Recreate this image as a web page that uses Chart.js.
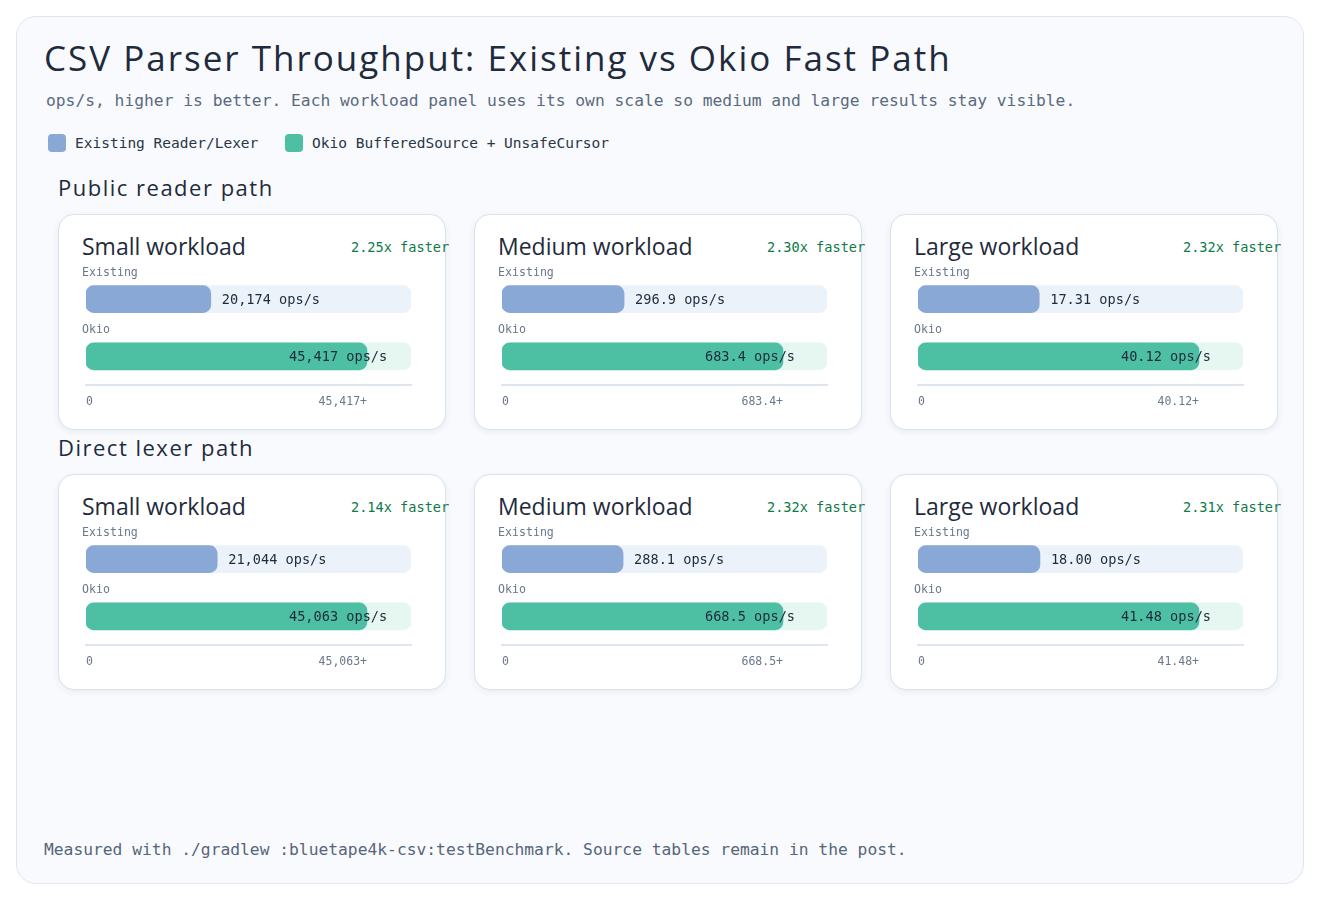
<!DOCTYPE html>
<html>
<head>
<meta charset="utf-8">
<script src="https://cdn.jsdelivr.net/npm/chart.js@4.4.1/dist/chart.umd.min.js"></script>
<style>
  body { margin: 0; background: #ffffff; width: 1320px; height: 900px; position: relative; overflow: hidden; }
  .frame { position: absolute; left: 16px; top: 16px; width: 1286px; height: 866px; border: 1px solid #e0e6ef; border-radius: 20px; background: #f8fafd; }
  .hand { font-family: "Open Sans", "Lato", sans-serif; color: #1f2b3c; }
  .mono { font-family: "DejaVu Sans Mono", "Liberation Mono", monospace; }
  .abs { position: absolute; white-space: nowrap; }
  .title { left: 44px; top: 36px; font-size: 35px; line-height: 44px; letter-spacing: 2px; }
  .subtitle { left: 46px; top: 91px; font-size: 16.3px; line-height: 20px; color: #5b6a7e; }
  .legend { left: 48px; top: 133px; font-size: 14.5px; line-height: 20px; color: #2a3646; }
  .legend span.sw { display: inline-block; width: 18px; height: 18px; border-radius: 4px; vertical-align: -4px; margin-right: 9px; }
  .legend span.item { margin-right: 18px; }
  .section { font-size: 22px; line-height: 28px; letter-spacing: 1.5px; }
  .panel { position: absolute; width: 386px; height: 214px; background: #ffffff; border: 1.5px solid #dae2ed; border-radius: 16px; box-shadow: 0 2px 6px rgba(40, 60, 100, 0.07); }
  .panel .ptitle { position: absolute; left: 23px; top: 16px; font-size: 23px; line-height: 30px; white-space: nowrap; }
  .panel .speed { position: absolute; left: 292px; top: 22px; font-size: 13.6px; line-height: 20px; color: #0d7a48; white-space: nowrap; }
  .panel canvas { position: absolute; left: -1.5px; top: 48.5px; }
  .footer { left: 44px; top: 840px; font-size: 16.3px; line-height: 20px; color: #56657a; }
</style>
</head>
<body>
<div class="frame"></div>
<div class="abs hand title">CSV Parser Throughput: Existing vs Okio Fast Path</div>
<div class="abs mono subtitle">ops/s, higher is better. Each workload panel uses its own scale so medium and large results stay visible.</div>
<div class="abs mono legend">
  <span class="item"><span class="sw" style="background:#8aa8d6"></span>Existing Reader/Lexer</span>
  <span class="item"><span class="sw" style="background:#4dc0a4"></span>Okio BufferedSource + UnsafeCursor</span>
</div>
<div class="abs hand section" style="left:58px; top:173px;">Public reader path</div>
<div class="abs hand section" style="left:58px; top:433px;">Direct lexer path</div>
<div id="panels"></div>
<div class="abs mono footer">Measured with ./gradlew :bluetape4k-csv:testBenchmark. Source tables remain in the post.</div>

<script>
const workloads = ["Small workload", "Medium workload", "Large workload"];
const barLabels = ["Existing", "Okio"];
const decimals = [0, 1, 2];

const publicExisting = [20174, 296.9, 17.31];
const publicOkio = [45417, 683.4, 40.12];
const publicSpeedup = [2.25, 2.30, 2.32];

const lexerExisting = [21044, 288.1, 18.00];
const lexerOkio = [45063, 668.5, 41.48];
const lexerSpeedup = [2.14, 2.32, 2.31];

const EXISTING_COLOR = "#8aa8d6";
const OKIO_COLOR = "#4dc0a4";
const EXISTING_TRACK = "#ebf2fa";
const OKIO_TRACK = "#e6f6f0";
const HEADROOM = 1.1566; // scale runs a bit past the okio value
const MONO = "'DejaVu Sans Mono', 'Liberation Mono', monospace";

const colX = [58, 474, 890];
const rowY = [214, 474];

function fmt(v, d) {
  return v.toLocaleString("en-US", { minimumFractionDigits: d, maximumFractionDigits: d });
}

// draws "Existing"/"Okio" above each bar and the value text next to it
const barTextPlugin = {
  id: "barText",
  afterDatasetsDraw(chart) {
    const ctx = chart.ctx;
    const meta = chart.getDatasetMeta(0);
    const area = chart.chartArea;
    const d = chart.options.plugins.barText.decimals;
    ctx.save();
    meta.data.forEach((bar, i) => {
      ctx.font = "11.6px " + MONO;
      ctx.fillStyle = "#6b778a";
      ctx.textAlign = "left";
      ctx.textBaseline = "middle";
      ctx.fillText(chart.data.labels[i], area.left - 4, bar.y - 26);

      const v = chart.data.datasets[0].data[i];
      ctx.font = "13.6px " + MONO;
      ctx.fillStyle = "#1f2b3b";
      const x = Math.min(bar.x + 11, area.right - 122);
      ctx.fillText(fmt(v, d) + " ops/s", x, bar.y + 1);
    });
    ctx.restore();
  }
};

function makePanel(left, top, title, existing, okio, speedup, d) {
  const panel = document.createElement("div");
  panel.className = "panel";
  panel.style.left = left + "px";
  panel.style.top = top + "px";
  panel.innerHTML =
    '<div class="ptitle hand">' + title + '</div>' +
    '<div class="speed mono">' + speedup.toFixed(2) + 'x faster</div>';
  const canvas = document.createElement("canvas");
  canvas.width = 388;
  canvas.height = 166;
  panel.appendChild(canvas);
  document.getElementById("panels").appendChild(panel);

  const max = okio * HEADROOM;
  new Chart(canvas, {
    type: "bar",
    data: {
      labels: barLabels,
      datasets: [
        {
          label: "value",
          data: [existing, okio],
          backgroundColor: [EXISTING_COLOR, OKIO_COLOR],
          barThickness: 27,
          borderRadius: 8,
          borderSkipped: false,
          grouped: false,
          order: 1
        },
        {
          label: "track",
          data: [max, max],
          backgroundColor: [EXISTING_TRACK, OKIO_TRACK],
          barThickness: 27,
          borderRadius: 8,
          borderSkipped: false,
          grouped: false,
          order: 2
        }
      ]
    },
    options: {
      indexAxis: "y",
      responsive: false,
      animation: false,
      layout: { padding: { left: 28, right: 35, top: 6.5, bottom: 10.2 } },
      scales: {
        x: {
          min: 0,
          max: max,
          afterBuildTicks: (scale) => {
            scale.ticks = [{ value: 0 }, { value: okio }];
          },
          ticks: {
            align: "inner",
            padding: 10.5,
            color: "#6b778a",
            font: { family: MONO, size: 11.5 },
            callback: (v) => (v === 0 ? "0" : fmt(v, d) + "+")
          },
          grid: { display: false, drawTicks: false },
          border: { display: true, color: "#dfe5ee", width: 2 }
        },
        y: { display: false }
      },
      plugins: {
        legend: { display: false },
        tooltip: { enabled: false },
        barText: { decimals: d }
      }
    },
    plugins: [barTextPlugin]
  });
}

workloads.forEach((w, i) => {
  makePanel(colX[i], rowY[0], w, publicExisting[i], publicOkio[i], publicSpeedup[i], decimals[i]);
  makePanel(colX[i], rowY[1], w, lexerExisting[i], lexerOkio[i], lexerSpeedup[i], decimals[i]);
});
</script>
</body>
</html>
